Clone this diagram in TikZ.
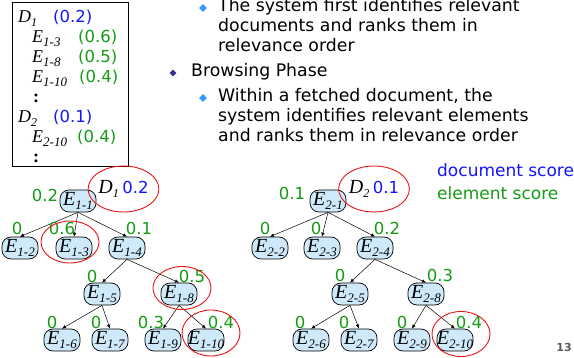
\documentclass[tikz,border=0pt]{standalone}
\usepackage{fontspec}
\setmainfont{Liberation Serif}
\setsansfont{DejaVu Sans}
\usetikzlibrary{arrows.meta, positioning, shapes.geometric}
\definecolor{scoregreen}{RGB}{20,155,20}
\definecolor{scoreblue}{RGB}{20,20,255}
\definecolor{ringred}{RGB}{235,20,20}
\definecolor{nodefill}{RGB}{206,234,250}
\definecolor{bulletcyan}{RGB}{51,153,255}
\definecolor{bulletnavy}{RGB}{51,51,140}
\newcommand{\elm}[1]{\textit{E}\raisebox{-4pt}{\fontsize{13}{13}\selectfont\textit{#1}}}
\newcommand{\docm}[1]{\textit{D}\raisebox{-4pt}{\fontsize{12}{12}\selectfont\textit{#1}}}
\newcommand{\gsc}[1]{{\sffamily\fontsize{16.5}{16}\selectfont\color{scoregreen}#1}}
\newcommand{\bsc}[1]{{\sffamily\fontsize{16.5}{16}\selectfont\color{scoreblue}#1}}

\begin{document}
\begin{tikzpicture}[
    x=1pt, y=-1pt,
    elem/.style={rectangle, rounded corners=9pt, draw, line width=0.7pt, fill=nodefill, minimum width=36pt, minimum height=22pt, inner sep=0pt, font=\fontsize{20}{20}\selectfont},
    score/.style={text=scoregreen, inner sep=0pt, font=\sffamily\fontsize{16.5}{16}\selectfont},
    ring/.style={ellipse, draw=ringred, line width=0.9pt, inner sep=0pt, minimum width=58pt, minimum height=#1},
    arr/.style={-{Latex[length=4pt, width=3.5pt]}, line width=0.5pt},
    bullet/.style={diamond, fill=#1, inner sep=0pt, minimum size=8pt},
    body/.style={anchor=base west, align=left, inner sep=0pt, font=\sffamily\fontsize{17.3}{20.2}\selectfont}
]
\useasboundingbox (0,0) rectangle (574,358);

% score list (base = last line)
\node[draw, line width=0.7pt, anchor=north west, minimum width=116pt, minimum height=164pt, inner sep=0pt] (scorebox) at (12,2) {};
\node[anchor=base west, align=left, inner sep=0pt, font=\fontsize{18}{20}\selectfont] (scorelist) at (18,163) {%
  \makebox[35pt][l]{\docm{1}}\bsc{(0.2)}\\
  \hspace{14pt}\makebox[46pt][l]{\elm{1-3}}\gsc{(0.6)}\\
  \hspace{14pt}\makebox[46pt][l]{\elm{1-8}}\gsc{(0.5)}\\
  \hspace{14pt}\makebox[47pt][l]{\elm{1-10}}\gsc{(0.4)}\\
  \hspace{15pt}\textbf{:}\\
  \makebox[35pt][l]{\docm{2}}\bsc{(0.1)}\\
  \hspace{14pt}\makebox[45pt][l]{\elm{2-10}}\gsc{(0.4)}\\
  \hspace{15pt}\textbf{:}};

% bullet text
\node[bullet=bulletcyan] (b1) at (203,8) {};
\node[body] (t1) at (218,52) {The system first identifies relevant\\documents and ranks them in\\relevance order};
\node[bullet=bulletnavy, minimum size=7pt] (b2) at (173,73) {};
\node[body] (t2) at (191,77) {Browsing Phase};
\node[bullet=bulletcyan] (b3) at (203,98) {};
\node[body] (t3) at (218,142) {Within a fetched document, the\\system identifies relevant elements\\and ranks them in relevance order};

% legend
\node[anchor=west, inner sep=0pt, text=scoreblue, font=\sffamily\fontsize{17}{17}\selectfont] (legdoc) at (437,170) {document score};
\node[anchor=west, inner sep=0pt, text=scoregreen, font=\sffamily\fontsize{17}{17}\selectfont] (legelem) at (437,193) {element score};

% first document tree
\node[elem] (e11) at (78,201) {\elm{1-1}};
\node[elem] (e12) at (20,248) {\elm{1-2}};
\node[elem] (e13) at (74,248) {\elm{1-3}};
\node[elem] (e14) at (127,248) {\elm{1-4}};
\node[elem] (e15) at (102,294) {\elm{1-5}};
\node[elem] (e18) at (179,294) {\elm{1-8}};
\node[elem] (e16) at (62,340) {\elm{1-6}};
\node[elem] (e17) at (110,340) {\elm{1-7}};
\node[elem] (e19) at (163,340) {\elm{1-9}};
\node[elem] (e110) at (206,340) {\elm{1-10}};

\draw[arr] (e11.south) -- (e12.north);
\draw[arr] (e11.south) -- (e13.north);
\draw[arr] (e11.south) -- (e14.north);
\draw[arr] (e14.south) -- (e15.north);
\draw[arr] (e14.south) -- (e18.north);
\draw[arr] (e15.south) -- (e16.north);
\draw[arr] (e15.south) -- (e17.north);
\draw[arr] (e18.south) -- (e19.north);
\draw[arr] (e18.south) -- (e110.north);

\node[score] (s11) at (45,195) {0.2};
\node[score] (s12) at (17,228) {0};
\node[score] (s13) at (62,228) {0.6};
\node[score] (s14) at (139,228) {0.1};
\node[score] (s15) at (92,276) {0};
\node[score] (s18) at (192,276) {0.5};
\node[score] (s16) at (52,322) {0};
\node[score] (s17) at (96,322) {0};
\node[score] (s19) at (151,322) {0.3};
\node[score] (s110) at (221,322) {0.4};

\node[ring=46pt, font=\fontsize{20}{20}\selectfont] (d1) at (123.5,189) {\docm{1}\,\bsc{0.2}};
\node[ring=42pt] (r13) at (70,242) {};
\node[ring=43pt] (r18) at (182,288) {};
\node[ring=46pt] (r110) at (211,333) {};

% second document tree
\node[elem] (e21) at (328,201) {\elm{2-1}};
\node[elem] (e22) at (270,248) {\elm{2-2}};
\node[elem] (e23) at (322,248) {\elm{2-3}};
\node[elem] (e24) at (375,248) {\elm{2-4}};
\node[elem] (e25) at (350,294) {\elm{2-5}};
\node[elem] (e28) at (426,294) {\elm{2-8}};
\node[elem] (e26) at (311,340) {\elm{2-6}};
\node[elem] (e27) at (359,340) {\elm{2-7}};
\node[elem] (e29) at (412,340) {\elm{2-9}};
\node[elem] (e210) at (455,340) {\elm{2-10}};

\draw[arr] (e21.south) -- (e22.north);
\draw[arr] (e21.south) -- (e23.north);
\draw[arr] (e21.south) -- (e24.north);
\draw[arr] (e24.south) -- (e25.north);
\draw[arr] (e24.south) -- (e28.north);
\draw[arr] (e25.south) -- (e26.north);
\draw[arr] (e25.south) -- (e27.north);
\draw[arr] (e28.south) -- (e29.north);
\draw[arr] (e28.south) -- (e210.north);

\node[score] (s21) at (292,193) {0.1};
\node[score] (s22) at (265,228) {0};
\node[score] (s23) at (316,228) {0};
\node[score] (s24) at (387,228) {0.2};
\node[score] (s25) at (340,275) {0};
\node[score] (s28) at (440,275) {0.3};
\node[score] (s26) at (300,322) {0};
\node[score] (s27) at (344,322) {0};
\node[score] (s29) at (402,322) {0};
\node[score] (s210) at (469,322) {0.4};

\node[ring=46pt, font=\fontsize{20}{20}\selectfont] (d2) at (374,189) {\docm{2}\,\bsc{0.1}};
\node[ring=45pt] (r210) at (461,334) {};

% slide number
\node[text=black!65, font=\sffamily\bfseries\fontsize{11}{11}\selectfont, inner sep=0pt] (pageno) at (564,347) {13};
\end{tikzpicture}
\end{document}
